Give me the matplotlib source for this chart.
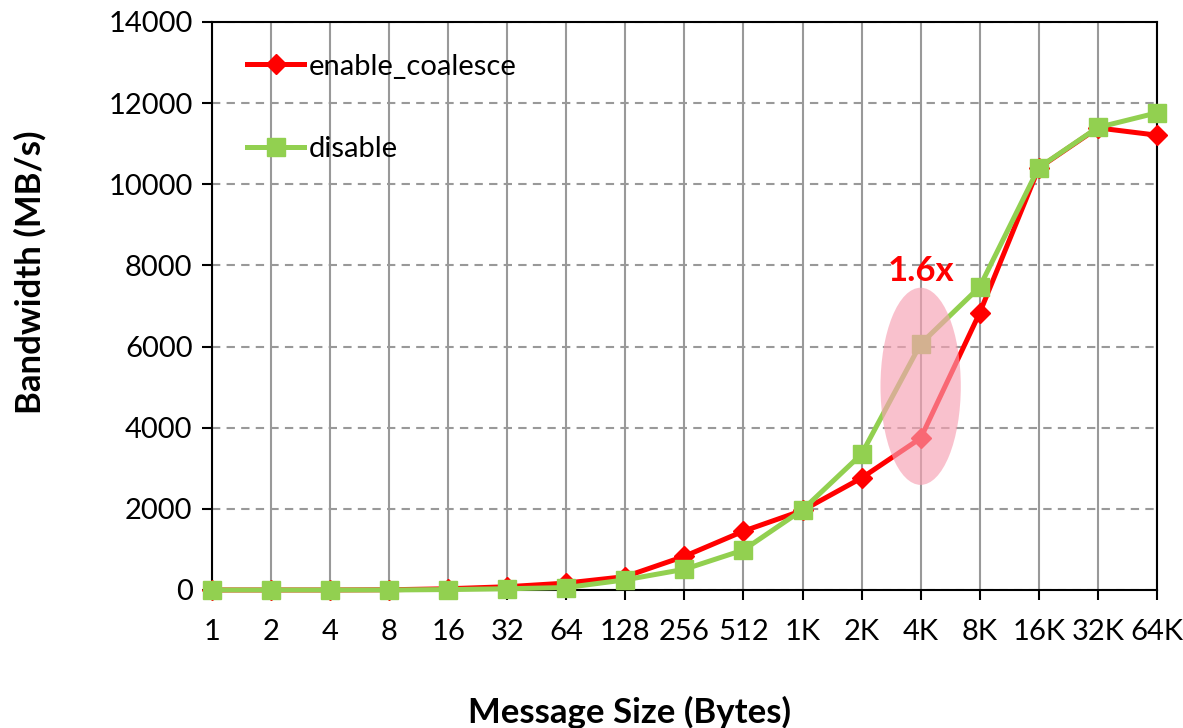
import numpy as np
import matplotlib.pyplot as plt
from matplotlib.patches import Ellipse

# tamaños de mensaje
sizes = ['1', '2', '4', '8', '16', '32', '64', '128', '256', '512',
         '1K', '2K', '4K', '8K', '16K', '32K', '64K']

# ancho de banda (MB/s)
enable_coalesce = [0, 0, 0, 5, 30, 80, 170, 330, 830, 1450,
                   1960, 2760, 3740, 6830, 10400, 11390, 11210]
disable = [0, 0, 0, 0, 10, 30, 60, 250, 510, 985,
           1975, 3350, 6065, 7470, 10410, 11400, 11760]

plt.rcParams['font.family'] = ['Lato', 'DejaVu Sans']

fig = plt.figure(figsize=(11.83, 7.28), dpi=100)
ax = fig.add_axes([0.1792, 0.1896, 0.7987, 0.7802])

x = np.arange(len(sizes))
ax.plot(x, enable_coalesce, color='#ff0000', lw=3.6, marker='D', ms=10,
        label='enable_coalesce', clip_on=False, zorder=3)
ax.plot(x, disable, color='#92d050', lw=3.6, marker='s', ms=12.5,
        label='disable', clip_on=False, zorder=4)

# elipse resaltando 4K
ell = Ellipse((12, 5020), width=1.36, height=4860, facecolor='#f7a1b3',
              alpha=0.65, edgecolor='none', zorder=5)
ax.add_patch(ell)
ax.text(12, 7850, '1.6x', color='#ff0000', fontsize=25, fontweight='bold',
        ha='center', va='center', zorder=6)

ax.set_xlim(0, 16)
ax.set_ylim(0, 14000)
ax.set_xticks(x)
ax.set_xticklabels(sizes)
ax.set_yticks(np.arange(0, 14001, 2000))

ax.grid(axis='x', color='#999999', lw=1.5, ls='-')
ax.grid(axis='y', color='#999999', lw=1.5, ls=(0, (4, 3)))
ax.set_axisbelow(True)

for s in ax.spines.values():
    s.set_color('black')
    s.set_linewidth(1.5)

ax.tick_params(axis='both', labelsize=21, length=7, width=1.5, direction='out')
ax.tick_params(axis='x', pad=14)
ax.tick_params(axis='y', pad=7)

# etiquetas de ejes (posición como en el original)
fig.text(629 / 1183, 1 - 712 / 728, 'Message Size (Bytes)', fontsize=25,
         fontweight='bold', ha='center', va='center')
fig.text(30 / 1183, 1 - 272 / 728, 'Bandwidth (MB/s)', fontsize=25,
         fontweight='bold', ha='center', va='center', rotation=90)

ax.legend(loc='upper left', bbox_to_anchor=(0.025, 0.965), frameon=False,
          fontsize=21, labelspacing=1.95, handlelength=1.95, handletextpad=0.15,
          borderaxespad=0)

fig.savefig('out.png', dpi=100)
